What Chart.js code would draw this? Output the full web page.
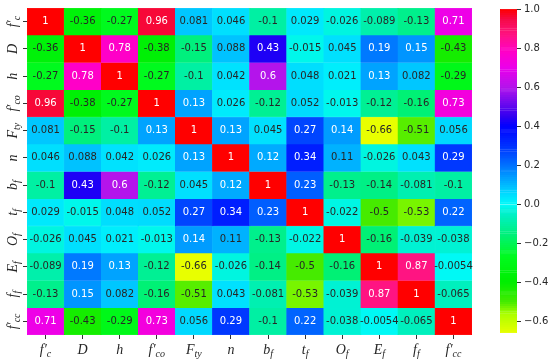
<!DOCTYPE html>
<html><head><meta charset="utf-8">
<script src="https://cdn.jsdelivr.net/npm/chart.js@4/dist/chart.umd.min.js"></script>
<style>
html,body{margin:0;padding:0;background:#fff;}
#wrap{position:relative;width:550px;height:363px;}
#main{position:absolute;left:0;top:0;}
#cbar{position:absolute;left:490px;top:0;}
</style></head><body>
<div id="wrap"><canvas id="main" width="550" height="363"></canvas><canvas id="cbar" width="60" height="363"></canvas></div>
<script>
// Variable labels ("_" starts subscript)
const labels = ["f′_c","D","h","f′_co","F_ty","n","b_f","t_f","O_f","E_f","f_f","f′_cc"];
// Correlation matrix rows
const rowFc  = [1, -0.36, -0.27, 0.96, 0.081, 0.046, -0.1, 0.029, -0.026, -0.089, -0.13, 0.71];
const rowD   = [-0.36, 1, 0.78, -0.38, -0.15, 0.088, 0.43, -0.015, 0.045, 0.19, 0.15, -0.43];
const rowH   = [-0.27, 0.78, 1, -0.27, -0.1, 0.042, 0.6, 0.048, 0.021, 0.13, 0.082, -0.29];
const rowFco = [0.96, -0.38, -0.27, 1, 0.13, 0.026, -0.12, 0.052, -0.013, -0.12, -0.16, 0.73];
const rowFty = [0.081, -0.15, -0.1, 0.13, 1, 0.13, 0.045, 0.27, 0.14, -0.66, -0.51, 0.056];
const rowN   = [0.046, 0.088, 0.042, 0.026, 0.13, 1, 0.12, 0.34, 0.11, -0.026, 0.043, 0.29];
const rowBf  = [-0.1, 0.43, 0.6, -0.12, 0.045, 0.12, 1, 0.23, -0.13, -0.14, -0.081, -0.1];
const rowTf  = [0.029, -0.015, 0.048, 0.052, 0.27, 0.34, 0.23, 1, -0.022, -0.5, -0.53, 0.22];
const rowOf  = [-0.026, 0.045, 0.021, -0.013, 0.14, 0.11, -0.13, -0.022, 1, -0.16, -0.039, -0.038];
const rowEf  = [-0.089, 0.19, 0.13, -0.12, -0.66, -0.026, -0.14, -0.5, -0.16, 1, 0.87, -0.0054];
const rowFf  = [-0.13, 0.15, 0.082, -0.16, -0.51, 0.043, -0.081, -0.53, -0.039, 0.87, 1, -0.065];
const rowFcc = [0.71, -0.43, -0.29, 0.73, 0.056, 0.29, -0.1, 0.22, -0.038, -0.0054, -0.065, 1];
const rows = [rowFc,rowD,rowH,rowFco,rowFty,rowN,rowBf,rowTf,rowOf,rowEf,rowFf,rowFcc];
// Colour bar range and ticks
const vMin = -0.66, vMax = 1.0;
const cbarTicks = [-0.6,-0.4,-0.2,0.0,0.2,0.4,0.6,0.8,1.0];

// colormap stops
const stops = [
 [-0.66,[232,255,0]],[-0.56,[170,255,0]],[-0.5,[70,235,0]],[-0.4,[0,238,0]],
 [-0.27,[0,250,30]],[-0.15,[0,240,125]],[-0.05,[0,240,200]],[0.0,[0,250,250]],
 [0.06,[0,215,255]],[0.12,[0,170,255]],[0.22,[0,100,255]],[0.3,[0,50,255]],
 [0.4,[0,0,255]],[0.45,[50,0,240]],[0.6,[180,20,235]],[0.7,[235,0,235]],
 [0.78,[255,0,200]],[0.87,[255,20,130]],[0.95,[245,10,70]],[1.0,[255,0,0]]
];
function cmap(v){
  if(v<=stops[0][0]) return 'rgb('+stops[0][1].join(',')+')';
  for(let k=1;k<stops.length;k++){
    if(v<=stops[k][0]){
      const [a,ca]=stops[k-1],[b,cb]=stops[k];
      const t=(v-a)/(b-a);
      const c=ca.map((x,i)=>Math.round(x+(cb[i]-x)*t));
      return 'rgb('+c.join(',')+')';
    }
  }
  return 'rgb('+stops[stops.length-1][1].join(',')+')';
}
function fmt(v){ return Number(v.toPrecision(2)).toString(); }

const datasets = rows.map((r,i)=>({
  data: r.map(()=>[i-0.5,i+0.5]),
  backgroundColor: r.map(cmap),
  borderColor: r.map(cmap),
  borderWidth: 0.5,
  borderSkipped: false,
  grouped: false,
  barPercentage: 1,
  categoryPercentage: 1
}));

function drawLabel(ctx, text, x, y, rotate){
  const parts = text.split('_');
  const main = parts[0], sub = parts[1]||'';
  const mf = 'italic 14px "Liberation Serif", "Times New Roman", serif';
  const sf = 'italic 10px "Liberation Serif", "Times New Roman", serif';
  ctx.save();
  ctx.translate(x,y);
  if(rotate) ctx.rotate(-Math.PI/2);
  ctx.font = mf; const mw = ctx.measureText(main).width;
  ctx.font = sf; const sw = ctx.measureText(sub).width;
  const tw = mw + sw;
  ctx.fillStyle = '#262626';
  ctx.textBaseline = 'alphabetic';
  ctx.textAlign = 'left';
  ctx.font = mf; ctx.fillText(main, -tw/2, 0);
  ctx.font = sf; ctx.fillText(sub, -tw/2+mw, 3);
  ctx.restore();
}

const annot = {
  id:'annot',
  afterDatasetsDraw(chart){
    const ctx = chart.ctx;
    ctx.save();
    ctx.font = '10px "DejaVu Sans", sans-serif';
    ctx.textAlign='center'; ctx.textBaseline='middle';
    chart.data.datasets.forEach((ds,i)=>{
      const meta = chart.getDatasetMeta(i);
      meta.data.forEach((el,j)=>{
        const v = rows[i][j];
        ctx.fillStyle = v > 0.115 ? '#ffffff' : '#262626';
        ctx.fillText(fmt(v), el.x, (el.y+el.base)/2);
      });
    });
    ctx.restore();
  },
  afterDraw(chart){
    const ctx = chart.ctx;
    const xs = chart.scales.x, ys = chart.scales.y;
    labels.forEach((l,i)=>{
      drawLabel(ctx, l, xs.getPixelForValue(i), 354, false);
      drawLabel(ctx, l, 17, ys.getPixelForValue(i), true);
    });
  }
};

new Chart(document.getElementById('main'),{
  type:'bar',
  data:{labels:labels, datasets:datasets},
  options:{
    responsive:false, animation:false, devicePixelRatio:1,
    layout:{padding:{left:0,right:78,top:8,bottom:0}},
    plugins:{legend:{display:false},tooltip:{enabled:false}},
    scales:{
      x:{type:'category', offset:true,
         grid:{offset:false, drawOnChartArea:false, drawTicks:true, tickLength:4, color:'#333'},
         border:{display:false},
         ticks:{display:false},
         afterFit:(s)=>{s.height=28;}
      },
      y:{type:'linear', min:-0.5, max:11.5, reverse:true,
         grid:{drawOnChartArea:false, drawTicks:true, tickLength:4, color:'#333'},
         border:{display:false},
         ticks:{display:false},
         afterBuildTicks:(s)=>{s.ticks = labels.map((_,i)=>({value:i}));},
         afterFit:(s)=>{s.width=27;}
      }
    }
  },
  plugins:[annot]
});

// colour bar
const nSeg = 166;
const segs = [];
for(let k=0;k<nSeg;k++){
  const a = vMin + (vMax-vMin)*k/nSeg, b = vMin + (vMax-vMin)*(k+1)/nSeg;
  segs.push({x:0, y:[a,b], c:cmap((a+b)/2)});
}
new Chart(document.getElementById('cbar'),{
  type:'bar',
  data:{datasets:[{
    data: segs.map(s=>({x:s.x,y:s.y})),
    backgroundColor: segs.map(s=>s.c),
    borderColor: segs.map(s=>s.c),
    borderWidth:0.5, borderSkipped:false,
    barThickness:17
  }]},
  options:{
    responsive:false, animation:false, devicePixelRatio:1,
    layout:{padding:{left:10,right:0,top:8,bottom:30}},
    plugins:{legend:{display:false},tooltip:{enabled:false}},
    scales:{
      x:{type:'linear', min:-0.5, max:0.5, display:false},
      y:{type:'linear', position:'right', min:vMin, max:vMax,
         grid:{drawOnChartArea:false, drawTicks:true, tickLength:4, color:'#333'},
         border:{display:false},
         ticks:{font:{family:'"DejaVu Sans", sans-serif', size:10}, color:'#262626', padding:3,
           callback:(v)=>Number(v).toFixed(1).replace('-','\u2212')},
         afterBuildTicks:(s)=>{s.ticks = cbarTicks.map(v=>({value:v}));},
         afterFit:(s)=>{s.width=33;}
      }
    }
  }
});
</script>
</body></html>
